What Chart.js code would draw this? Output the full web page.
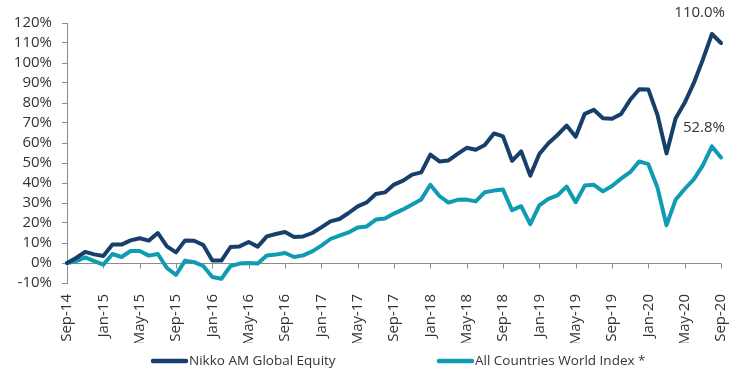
<!DOCTYPE html>
<html>
<head>
<meta charset="utf-8">
<script src="https://cdn.jsdelivr.net/npm/chart.js@4/dist/chart.umd.min.js"></script>
<style>
html,body{margin:0;padding:0;background:#fff;}
canvas{display:block;}
</style>
</head>
<body>
<canvas id="c" width="750" height="380"></canvas>
<script>
const months = [
 "Sep-14","Oct-14","Nov-14","Dec-14","Jan-15","Feb-15","Mar-15","Apr-15","May-15","Jun-15","Jul-15","Aug-15",
 "Sep-15","Oct-15","Nov-15","Dec-15","Jan-16","Feb-16","Mar-16","Apr-16","May-16","Jun-16","Jul-16","Aug-16",
 "Sep-16","Oct-16","Nov-16","Dec-16","Jan-17","Feb-17","Mar-17","Apr-17","May-17","Jun-17","Jul-17","Aug-17",
 "Sep-17","Oct-17","Nov-17","Dec-17","Jan-18","Feb-18","Mar-18","Apr-18","May-18","Jun-18","Jul-18","Aug-18",
 "Sep-18","Oct-18","Nov-18","Dec-18","Jan-19","Feb-19","Mar-19","Apr-19","May-19","Jun-19","Jul-19","Aug-19",
 "Sep-19","Oct-19","Nov-19","Dec-19","Jan-20","Feb-20","Mar-20","Apr-20","May-20","Jun-20","Jul-20","Aug-20",
 "Sep-20"
];
const seriesNames = ["Nikko AM Global Equity", "All Countries World Index *"];
const nikko = [
 0, 2.5, 5.6, 4.3, 3.5, 9.2, 9.2, 11.3, 12.4, 11.2, 15, 8.3,
 5.3, 11.3, 11.1, 9, 1.2, 1.2, 8, 8.3, 10.5, 8.2, 13.3, 14.5,
 15.5, 13, 13.3, 15, 17.8, 20.8, 22, 25, 28.3, 30.3, 34.5, 35.3,
 39.2, 41.2, 44.2, 45.3, 54.2, 50.8, 51.3, 54.6, 57.6, 56.6, 59, 64.8,
 63.3, 51.1, 55.8, 43.7, 54.5, 59.9, 64, 68.7, 63.1, 74.6, 76.6, 72.4,
 72.1, 74.5, 81.6, 86.9, 86.8, 74.1, 54.8, 72.3, 80.1, 89.9, 101.7, 114.5,
 110.0
];
const acwi = [
 0, 0.9, 2.8, 0.9, -0.8, 4.5, 3, 6, 6, 3.7, 4.5, -2.5,
 -5.9, 1.2, 0.4, -1.5, -7, -7.9, -1.5, -0.3, 0, -0.3, 3.8, 4.2,
 5, 3, 3.8, 5.8, 8.7, 12, 13.7, 15.3, 17.8, 18.3, 21.7, 22.3,
 24.7, 26.8, 29.2, 31.8, 39.1, 33.5, 30.2, 31.6, 31.7, 30.8, 35.4, 36.2,
 36.7, 26.4, 28.4, 19.4, 28.8, 32.1, 33.8, 38.2, 30.4, 38.7, 39.1, 35.8,
 38.5, 42.2, 45.4, 50.8, 49.4, 37.8, 18.9, 31.6, 37, 41.8, 48.8, 58.3,
 52.8
];
const yTicks = { min: -10, max: 120, step: 10 };
const tickEvery = 4;

const navy = "#173F6B";
const teal = "#0F9BB2";
const textColor = "#333333";
const axisColor = "#8c8c8c";
const FONT = "'Open Sans', sans-serif";

const zeroAxis = {
  id: "zeroAxis",
  beforeDatasetsDraw(chart) {
    const {ctx, chartArea, scales} = chart;
    const y0 = Math.round(scales.y.getPixelForValue(0)) + 0.5;
    ctx.save();
    ctx.strokeStyle = axisColor;
    ctx.lineWidth = 1;
    ctx.beginPath();
    ctx.moveTo(chartArea.left, y0);
    ctx.lineTo(chartArea.right, y0);
    for (let i = 0; i < months.length; i += tickEvery) {
      const x = Math.round(scales.x.getPixelForValue(i)) + 0.5;
      ctx.moveTo(x, y0);
      ctx.lineTo(x, y0 + 5);
    }
    ctx.stroke();
    ctx.restore();
  }
};

const endLabels = {
  id: "endLabels",
  afterDatasetsDraw(chart) {
    const {ctx} = chart;
    ctx.save();
    ctx.font = "15px " + FONT;
    ctx.fillStyle = textColor;
    ctx.textAlign = "right";
    ctx.textBaseline = "middle";
    chart.data.datasets.forEach((ds, di) => {
      const meta = chart.getDatasetMeta(di);
      const last = meta.data[meta.data.length - 1];
      const v = ds.data[ds.data.length - 1];
      ctx.fillText(v.toFixed(1) + "%", last.x + 4, last.y - 30);
    });
    ctx.restore();
  }
};

const lineLegend = {
  id: "lineLegend",
  afterDraw(chart) {
    const {ctx} = chart;
    const starts = [151, 437];
    const y = 361;
    ctx.save();
    ctx.font = "13.5px " + FONT;
    ctx.textBaseline = "middle";
    ctx.textAlign = "left";
    chart.data.datasets.forEach((ds, di) => {
      const x = starts[di];
      ctx.strokeStyle = ds.borderColor;
      ctx.lineWidth = 4.5;
      ctx.lineCap = "round";
      ctx.beginPath();
      ctx.moveTo(x + 2, y);
      ctx.lineTo(x + 35, y);
      ctx.stroke();
      ctx.fillStyle = textColor;
      ctx.fillText(ds.label, x + 38, y);
    });
    ctx.restore();
  }
};

new Chart(document.getElementById("c"), {
  type: "line",
  data: {
    labels: months,
    datasets: [
      { label: seriesNames[0], data: nikko, borderColor: navy, backgroundColor: navy,
        borderWidth: 4, pointRadius: 0, tension: 0, borderJoinStyle: "round", borderCapStyle: "round" },
      { label: seriesNames[1], data: acwi, borderColor: teal, backgroundColor: teal,
        borderWidth: 4, pointRadius: 0, tension: 0, borderJoinStyle: "round", borderCapStyle: "round" }
    ]
  },
  options: {
    responsive: false,
    animation: false,
    devicePixelRatio: 1,
    layout: { padding: { top: 23, right: 26, left: 0, bottom: 37 } },
    plugins: { legend: { display: false }, tooltip: { enabled: false } },
    scales: {
      x: {
        type: "category",
        offset: false,
        grid: { display: false, drawTicks: false },
        border: { display: false },
        ticks: {
          autoSkip: false, maxRotation: 90, minRotation: 90, padding: 11,
          color: textColor, font: { family: FONT, size: 15 },
          callback: function(v, i) { return i % tickEvery === 0 ? this.getLabelForValue(v) : ""; }
        },
        afterFit(s) { s.height = 60; }
      },
      y: {
        min: yTicks.min, max: yTicks.max,
        grid: { drawOnChartArea: false, drawTicks: true, tickLength: 5, color: axisColor },
        border: { display: true, color: axisColor, width: 1 },
        ticks: {
          stepSize: yTicks.step, padding: 10, color: textColor, autoSkip: false,
          font: { family: FONT, size: 15 },
          callback: v => v + "%"
        },
        afterFit(s) { s.width = 67; }
      }
    }
  },
  plugins: [zeroAxis, endLabels, lineLegend]
});
</script>
</body>
</html>
